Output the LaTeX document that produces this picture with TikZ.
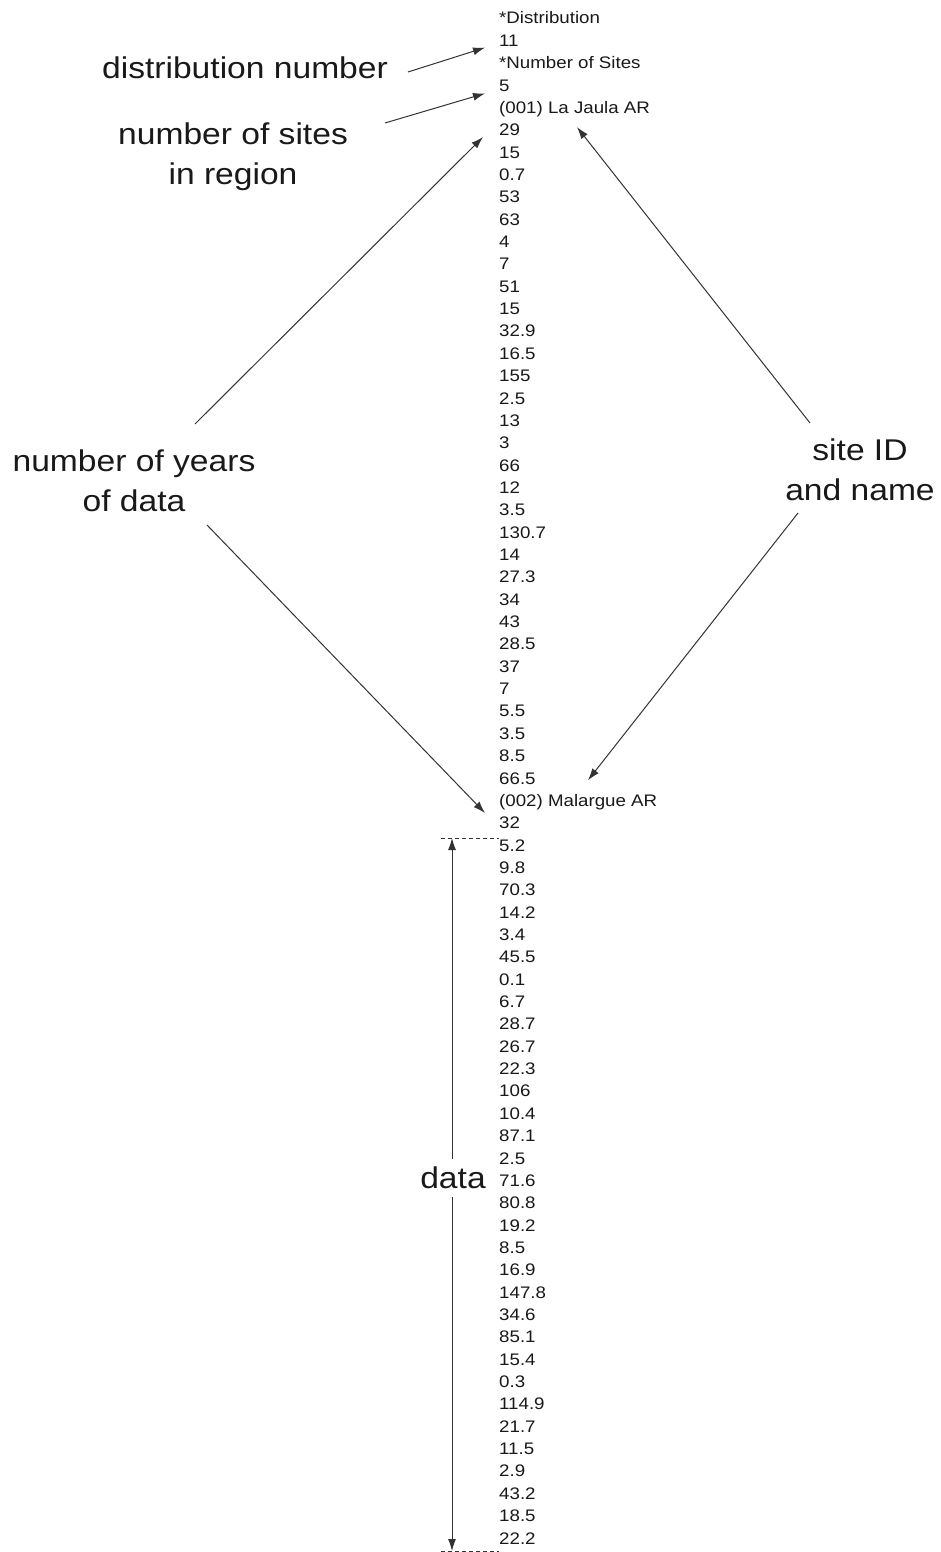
\documentclass[tikz,border=0pt]{standalone}
\usepackage{fontspec}
\setmainfont{Liberation Sans}[FakeStretch=1.12]
\usetikzlibrary{arrows.meta,calc}
\begin{document}
\begin{tikzpicture}[x=1pt,y=-1pt]
\tikzset{
  col/.style={anchor=base west, inner sep=0pt, font=\fontsize{16.7}{20}\selectfont, text=black!90},
  lbl/.style={inner sep=0pt, align=center, font=\fontsize{30}{40}\selectfont, text=black!90},
  arr/.style={-{Latex[length=12pt,width=8pt]}, line width=1pt, draw=black!80},
  dblarr/.style={{Latex[length=12pt,width=8pt]}-{Latex[length=12pt,width=8pt]}, line width=1pt, draw=black!80},
  dashline/.style={dash pattern=on 4pt off 3pt, line width=0.8pt, draw=black!80},
}
\useasboundingbox[fill=white] (0,0) rectangle (940,1552);

% column of file lines
\foreach \t [count=\i] in {*Distribution,11,*Number of Sites,5,(001) La Jaula AR,29,15,0.7,53,63,4,7,51,15,32.9,16.5,155,2.5,13,3,66,12,3.5,130.7,14,27.3,34,43,28.5,37,7,5.5,3.5,8.5,66.5,(002) Malargue AR,32,5.2,9.8,70.3,14.2,3.4,45.5,0.1,6.7,28.7,26.7,22.3,106,10.4,87.1,2.5,71.6,80.8,19.2,8.5,16.9,147.8,34.6,85.1,15.4,0.3,114.9,21.7,11.5,2.9,43.2,18.5,22.2}
  \node[col] (l\i) at (499,{24+22.353*(\i-1)}) {\t};

% labels
\node[lbl] (dist)  at (245,68)  {distribution number};
\node[lbl] (sites) at (233,157) {number of sites\\in region};
\node[lbl] (years) at (134,481) {number of years\\of data};
\node[lbl] (site)  at (860,470) {site ID\\and name};

% connectors
\draw[arr] ([shift={(163,4)}]dist.center) -- ([shift={(-14,7)}]l2.west);
\draw[arr] ([shift={(152,-34)}]sites.center) -- ([shift={(-14,8)}]l4.west);
\draw[arr] ([shift={(61,-57)}]years.center) -- ([shift={(-16,7)}]l6.west);
\draw[arr] ([shift={(73,44)}]years.center) -- ([shift={(-14,11)}]l36.west);
\draw[arr] ([shift={(-50,-47)}]site.center) -- ([shift={(78,18)}]l5.west);
\draw[arr] ([shift={(-62,43)}]site.center) -- ([shift={(89,2)}]l35.west);

% data range
\coordinate (dtop) at (452,838);
\coordinate (dbot) at (452,1551);
\draw[dashline] ([xshift=-11]dtop) -- (l38.west |- dtop);
\draw[dashline] ([xshift=-11]dbot) -- (l38.west |- dbot);
\draw[dblarr] (dtop) -- (dbot);
\node[lbl, fill=white, inner xsep=1pt, inner ysep=8pt] (data) at (453,1178) {data};
\end{tikzpicture}
\end{document}
